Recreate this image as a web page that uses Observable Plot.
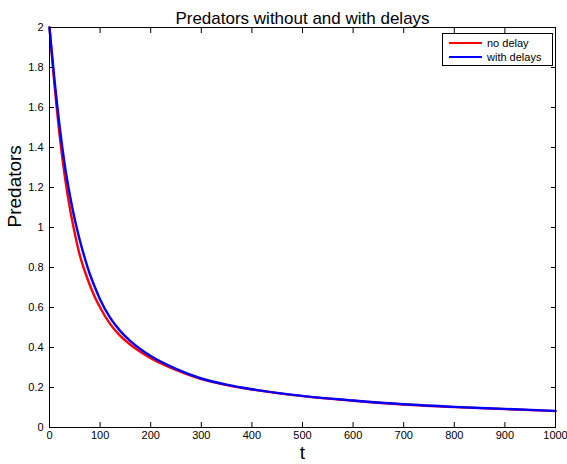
<!DOCTYPE html>
<html>
<head>
<meta charset="utf-8">
<script src="https://cdn.jsdelivr.net/npm/d3@7"></script>
<script src="https://cdn.jsdelivr.net/npm/@observablehq/plot@0.6"></script>
<style>
  html, body { margin: 0; padding: 0; background: #fff; }
  #wrap { position: relative; width: 567px; height: 464px; font-family: "Liberation Sans", Arial, sans-serif; }
  #wrap svg { overflow: visible; }
  #legend { position: absolute; left: 442px; top: 33px; width: 109px; height: 31px; border: 1px solid #000; background: #fff; font-size: 11px; }
  #legend .row { position: absolute; left: 6px; height: 14px; display: flex; align-items: center; }
  #legend .sw { width: 33px; height: 2.5px; margin-right: 5px; }
</style>
</head>
<body>
<div id="wrap"></div>
<script>
const title = "Predators without and with delays";
const xLabel = "t";
const yLabel = "Predators";
const seriesNames = ["no delay", "with delays"];
const seriesColors = ["#ff0000", "#0000ff"];

const tValues = [0, 5, 10, 15, 20, 25, 30, 40, 50, 60, 70, 80, 90, 100, 120, 140, 160, 180, 200, 250, 300, 350, 400, 450, 500, 600, 700, 800, 900, 1000];
const noDelay = [2.0, 1.85, 1.71, 1.58, 1.46, 1.355, 1.26, 1.10, 0.97, 0.86, 0.78, 0.71, 0.65, 0.60, 0.517, 0.458, 0.414, 0.378, 0.347, 0.288, 0.242, 0.212, 0.190, 0.172, 0.157, 0.134, 0.115, 0.102, 0.092, 0.082];
const withDelays = [2.0, 1.865, 1.735, 1.615, 1.505, 1.405, 1.315, 1.165, 1.04, 0.935, 0.845, 0.765, 0.70, 0.64, 0.548, 0.482, 0.432, 0.391, 0.357, 0.293, 0.245, 0.214, 0.191, 0.173, 0.158, 0.135, 0.116, 0.103, 0.093, 0.083];

const xTicks = [0, 100, 200, 300, 400, 500, 600, 700, 800, 900, 1000];
const yTicks = [0, 0.2, 0.4, 0.6, 0.8, 1, 1.2, 1.4, 1.6, 1.8, 2];

const data = [];
[noDelay, withDelays].forEach((vals, s) => {
  vals.forEach((v, i) => data.push({series: seriesNames[s], t: tValues[i], v}));
});

const plain = d => String(d);
const blank = () => "";

const chart = Plot.plot({
  width: 567,
  height: 464,
  marginLeft: 49,
  marginRight: 12,
  marginTop: 27,
  marginBottom: 37,
  style: {fontFamily: '"Liberation Sans", Arial, sans-serif', fontSize: "11px", color: "#000", background: "#fff", overflow: "visible"},
  x: {domain: [0, 1000]},
  y: {domain: [0, 2]},
  color: {domain: seriesNames, range: seriesColors},
  marks: [
    Plot.line(data, {x: "t", y: "v", stroke: "series", strokeWidth: 2.4, curve: "monotone-x"}),
    Plot.frame({stroke: "#000", strokeWidth: 1}),
    Plot.axisX(xTicks, {anchor: "bottom", tickSize: 0, tickPadding: 4, tickFormat: plain, fontSize: 11, label: null}),
    Plot.axisX(xTicks, {anchor: "bottom", tickSize: -5, tickFormat: blank, label: null}),
    Plot.axisX(xTicks, {anchor: "top", tickSize: -5, tickFormat: blank, label: null}),
    Plot.axisY(yTicks, {anchor: "left", tickSize: 0, tickPadding: 6, tickFormat: plain, fontSize: 11, label: null}),
    Plot.axisY(yTicks, {anchor: "left", tickSize: -5, tickFormat: blank, label: null}),
    Plot.axisY(yTicks, {anchor: "right", tickSize: -5, tickFormat: blank, label: null}),
    Plot.text([title], {frameAnchor: "top", dy: -16, fontSize: 17, fill: "#000"}),
    Plot.text([xLabel], {frameAnchor: "bottom", dy: 31, fontSize: 19, fill: "#000"}),
    Plot.text([yLabel], {frameAnchor: "left", dx: -35, rotate: -90, fontSize: 19, fill: "#000"})
  ]
});

const wrap = document.getElementById("wrap");
wrap.appendChild(chart);

const legend = document.createElement("div");
legend.id = "legend";
seriesNames.forEach((name, i) => {
  const row = document.createElement("div");
  row.className = "row";
  row.style.top = (2 + i * 14) + "px";
  const sw = document.createElement("span");
  sw.className = "sw";
  sw.style.background = seriesColors[i];
  const tx = document.createElement("span");
  tx.textContent = name;
  row.appendChild(sw);
  row.appendChild(tx);
  legend.appendChild(row);
});
wrap.appendChild(legend);
</script>
</body>
</html>
